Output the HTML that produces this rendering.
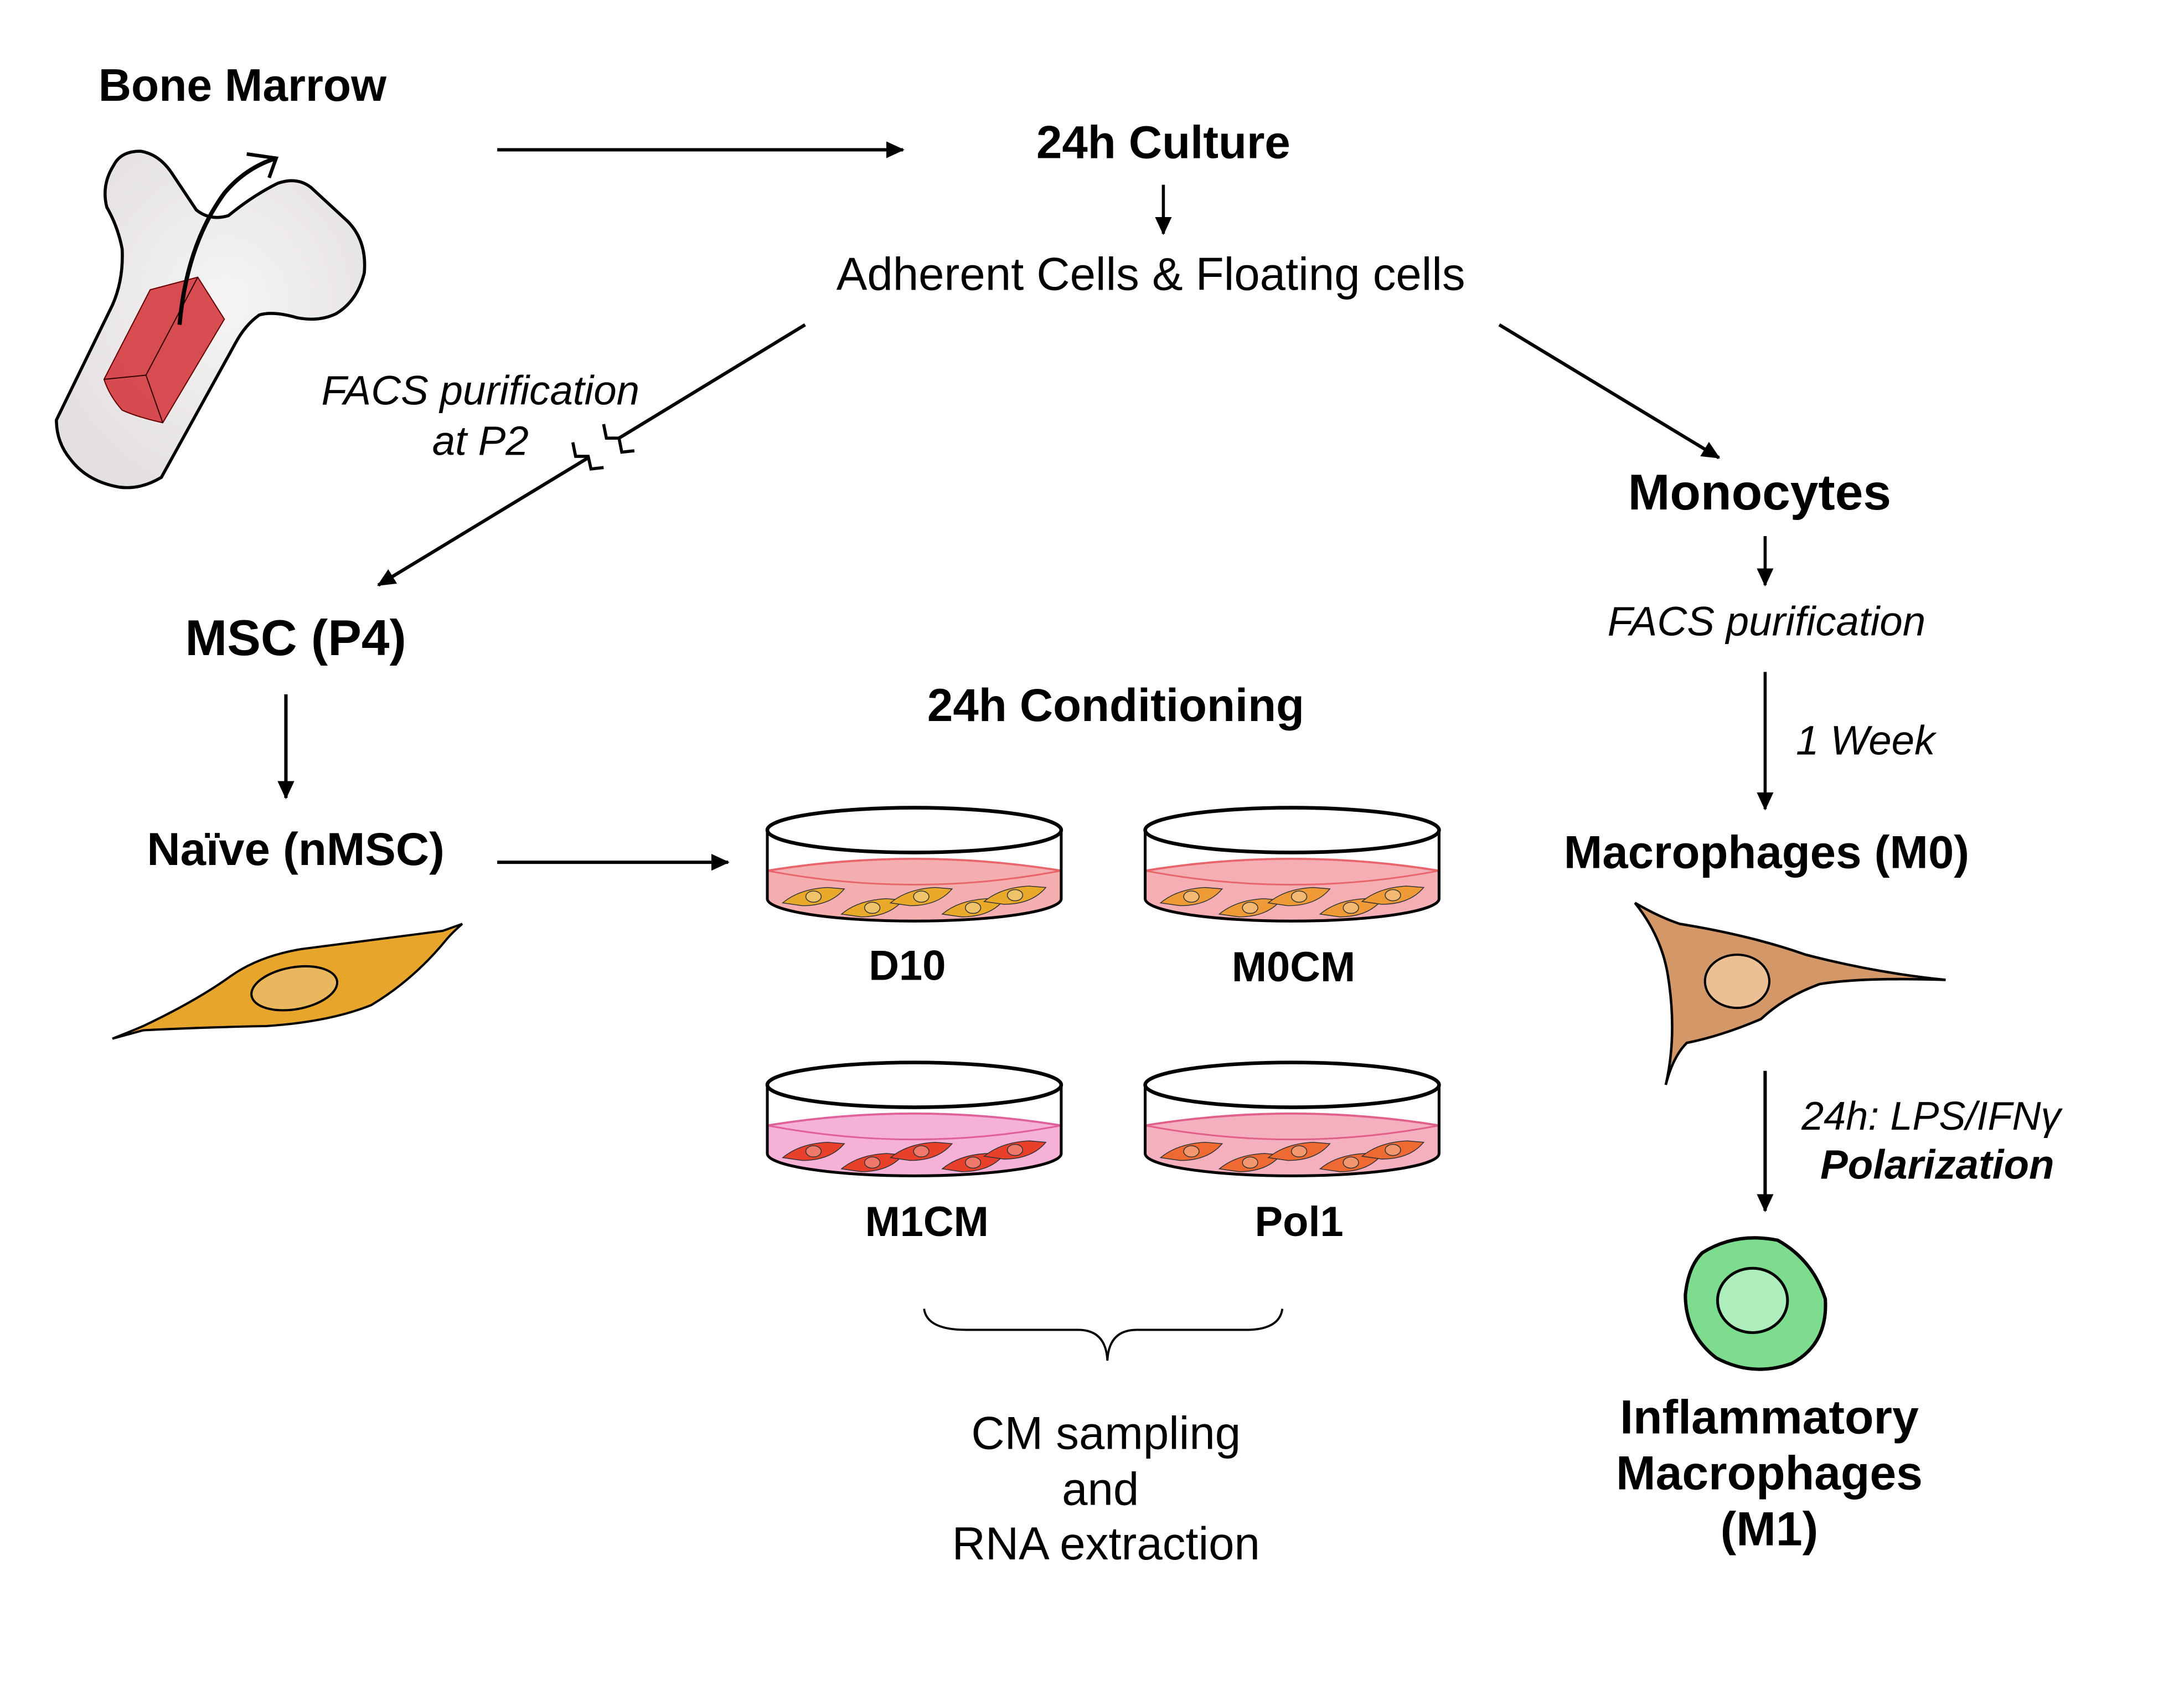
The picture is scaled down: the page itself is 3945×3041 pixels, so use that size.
<!DOCTYPE html>
<html><head><meta charset="utf-8"><style>
html,body{margin:0;padding:0;background:#fff;}
svg{display:block;}
text{font-family:"Liberation Sans",Arial,sans-serif;fill:#000;}
.b{font-weight:bold;}
.i{font-style:italic;}
</style></head><body>
<svg width="3945" height="3041" viewBox="0 0 1560 1203" xmlns="http://www.w3.org/2000/svg">
<defs>
<marker id="ah" markerWidth="13" markerHeight="12" refX="12" refY="6" orient="auto" markerUnits="userSpaceOnUse">
<path d="M0,0 L13,6 L0,12 Z" fill="#000"/></marker>
<radialGradient id="bone" cx="0.55" cy="0.45" r="0.6"><stop offset="0" stop-color="#f6f4f4"/><stop offset="1" stop-color="#e4e0e1"/></radialGradient>
<g id="cell"><path d="M-22,4 Q-10,-6 10,-7 L22,-6 Q12,6 -8,6 Z" stroke="#333" stroke-width="0.6"/><ellipse cx="0" cy="-0.5" rx="5.5" ry="4" fill="#fff" fill-opacity="0.3" stroke="#333" stroke-width="0.6"/></g>
</defs>
<rect width="1560" height="1203" fill="#fff"/>

<!-- Bone -->
<path d="M81,118 Q86,108 100,108 Q113,110 122,123 L140,150 Q150,158 163,154 Q180,140 198,131 Q212,126 222,134 L248,158 Q262,172 260,195 Q255,215 240,224 Q228,230 212,227 Q195,222 185,225 Q175,232 168,245 L115,341 Q100,350 85,348 Q62,344 50,328 Q40,316 40,300 L80,218 Q88,200 87,178 Q84,162 76,148 Q72,132 81,118 Z" fill="url(#bone)" stroke="#000" stroke-width="2.2"/>
<path d="M107,207 L141,198 L160,228 L116,302 Q98,298 87,293 Q78,283 74,271 Z" fill="#d3363b" fill-opacity="0.88" stroke="#600" stroke-width="0.8"/>
<path d="M141,198 L104,268 M74,271 L104,268 L116,302" fill="none" stroke="#300" stroke-width="0.8"/>
<path d="M128,232 Q133,175 160,138 Q175,120 197,113" fill="none" stroke="#000" stroke-width="3"/>
<path d="M176,110 L197,113 L192,127" fill="none" stroke="#000" stroke-width="2.5"/>

<text x="70" y="72" font-size="32.5" class="b">Bone Marrow</text>

<!-- top arrows -->
<line x1="355" y1="107" x2="645" y2="107" stroke="#000" stroke-width="2.4" marker-end="url(#ah)"/>
<text x="831" y="113" font-size="33" class="b" text-anchor="middle">24h Culture</text>
<line x1="831" y1="132" x2="831" y2="167" stroke="#000" stroke-width="2.2" marker-end="url(#ah)"/>
<text x="822" y="207" font-size="33" text-anchor="middle">Adherent Cells &amp; Floating cells</text>

<!-- left diagonal with break -->
<line x1="575" y1="232" x2="442" y2="313" stroke="#000" stroke-width="2.4"/>
<path d="M431,303 L433,313 L442,313 L444,323 L453,322" fill="none" stroke="#000" stroke-width="2.2"/>
<path d="M409,316 L411,326 L420,326 L422,335 L431,334" fill="none" stroke="#000" stroke-width="2.2"/>
<line x1="420" y1="327" x2="270" y2="418" stroke="#000" stroke-width="2.4" marker-end="url(#ah)"/>
<text x="343" y="289" font-size="29.5" class="i" text-anchor="middle">FACS purification</text>
<text x="343" y="325" font-size="29.5" class="i" text-anchor="middle">at P2</text>

<!-- right diagonal -->
<line x1="1071" y1="232" x2="1228" y2="327" stroke="#000" stroke-width="2.4" marker-end="url(#ah)"/>
<text x="1257" y="364" font-size="36" class="b" text-anchor="middle">Monocytes</text>
<line x1="1261" y1="383" x2="1261" y2="418" stroke="#000" stroke-width="2.2" marker-end="url(#ah)"/>
<text x="1262" y="454" font-size="29.5" class="i" text-anchor="middle">FACS purification</text>
<line x1="1261" y1="480" x2="1261" y2="578" stroke="#000" stroke-width="2.2" marker-end="url(#ah)"/>
<text x="1283" y="539" font-size="29.5" class="i">1 Week</text>
<text x="1262" y="620" font-size="33" class="b" text-anchor="middle">Macrophages (M0)</text>

<!-- macrophage -->
<path d="M1168,645 Q1185,655 1200,660 Q1250,668 1290,682 Q1340,695 1390,700 Q1330,698 1300,703 Q1275,712 1258,728 Q1230,740 1205,745 Q1195,755 1190,775 Q1198,740 1192,700 Q1188,670 1168,645 Z" fill="#d49868" stroke="#000" stroke-width="1.8"/>
<ellipse cx="1241" cy="701" rx="23" ry="19" fill="#ecbf95" stroke="#000" stroke-width="1.6"/>

<line x1="1261" y1="765" x2="1261" y2="865" stroke="#000" stroke-width="2.4" marker-end="url(#ah)"/>
<text x="1287" y="807" font-size="28.5" class="i">24h: LPS/IFNγ</text>
<text x="1384" y="842" font-size="29.5" class="b i" text-anchor="middle">Polarization</text>

<!-- M1 cell -->
<path d="M1216,895 Q1240,880 1270,886 Q1295,900 1304,928 Q1306,960 1280,974 Q1252,984 1226,970 Q1204,953 1204,925 Q1206,905 1216,895 Z" fill="#7ddc8e" stroke="#000" stroke-width="2.4"/>
<ellipse cx="1252" cy="929" rx="25" ry="23" fill="#aeeebc" stroke="#000" stroke-width="2"/>
<text x="1264" y="1024" font-size="34" class="b" text-anchor="middle">Inflammatory</text>
<text x="1264" y="1064" font-size="34" class="b" text-anchor="middle">Macrophages</text>
<text x="1264" y="1104" font-size="34" class="b" text-anchor="middle">(M1)</text>

<!-- MSC side -->
<text x="211" y="468" font-size="36" class="b" text-anchor="middle">MSC (P4)</text>
<line x1="204" y1="496" x2="204" y2="570" stroke="#000" stroke-width="2.4" marker-end="url(#ah)"/>
<text x="211" y="618" font-size="33" class="b" text-anchor="middle">Naïve (nMSC)</text>
<line x1="355" y1="616" x2="520" y2="616" stroke="#000" stroke-width="2.4" marker-end="url(#ah)"/>
<path d="M80,742 Q95,736 102,733 Q140,715 165,697 Q185,683 215,678 Q260,672 316,665 L330,660 Q322,667 318,672 Q295,700 265,718 Q235,730 190,733 Q140,734 102,736 Z" fill="#e8a52c" stroke="#000" stroke-width="1.6"/>
<ellipse cx="210" cy="706" rx="31" ry="15" transform="rotate(-10 210 706)" fill="#e9b85e" stroke="#000" stroke-width="1.6"/>

<text x="797" y="515" font-size="33" class="b" text-anchor="middle">24h Conditioning</text>

<!-- dishes -->
<g transform="translate(653,0)">
<path d="M-105,622 Q0,605 105,622 L105,642 A105,16 0 0 1 -105,642 Z" fill="#f5aeb0" stroke="#e8656c" stroke-width="1.5"/>
<path d="M-105,622 Q0,642 105,622" fill="none" stroke="#e8656c" stroke-width="1.2"/>
<g fill="#e9a92a"><use href="#cell" x="-72" y="641"/><use href="#cell" x="-30" y="649"/><use href="#cell" x="5" y="641"/><use href="#cell" x="42" y="649"/><use href="#cell" x="72" y="640"/></g>
<path d="M-105,593 L-105,642 A105,16 0 0 0 105,642 L105,593" fill="none" stroke="#000" stroke-width="2"/>
<ellipse cx="0" cy="593" rx="105" ry="16" fill="none" stroke="#000" stroke-width="2.6"/>
</g>
<g transform="translate(923,0)">
<path d="M-105,622 Q0,605 105,622 L105,642 A105,16 0 0 1 -105,642 Z" fill="#f5aeb4" stroke="#e8656c" stroke-width="1.5"/>
<path d="M-105,622 Q0,642 105,622" fill="none" stroke="#e8656c" stroke-width="1.2"/>
<g fill="#ee9a36"><use href="#cell" x="-72" y="641"/><use href="#cell" x="-30" y="649"/><use href="#cell" x="5" y="641"/><use href="#cell" x="42" y="649"/><use href="#cell" x="72" y="640"/></g>
<path d="M-105,593 L-105,642 A105,16 0 0 0 105,642 L105,593" fill="none" stroke="#000" stroke-width="2"/>
<ellipse cx="0" cy="593" rx="105" ry="16" fill="none" stroke="#000" stroke-width="2.6"/>
</g>
<g transform="translate(653,182)">
<path d="M-105,622 Q0,605 105,622 L105,642 A105,16 0 0 1 -105,642 Z" fill="#f5b2d6" stroke="#e0609a" stroke-width="1.5"/>
<path d="M-105,622 Q0,642 105,622" fill="none" stroke="#e0609a" stroke-width="1.2"/>
<g fill="#e9402c"><use href="#cell" x="-72" y="641"/><use href="#cell" x="-30" y="649"/><use href="#cell" x="5" y="641"/><use href="#cell" x="42" y="649"/><use href="#cell" x="72" y="640"/></g>
<path d="M-105,593 L-105,642 A105,16 0 0 0 105,642 L105,593" fill="none" stroke="#000" stroke-width="2"/>
<ellipse cx="0" cy="593" rx="105" ry="16" fill="none" stroke="#000" stroke-width="2.6"/>
</g>
<g transform="translate(923,182)">
<path d="M-105,622 Q0,605 105,622 L105,642 A105,16 0 0 1 -105,642 Z" fill="#f5b0c0" stroke="#e0608a" stroke-width="1.5"/>
<path d="M-105,622 Q0,642 105,622" fill="none" stroke="#e0608a" stroke-width="1.2"/>
<g fill="#ee6a32"><use href="#cell" x="-72" y="641"/><use href="#cell" x="-30" y="649"/><use href="#cell" x="5" y="641"/><use href="#cell" x="42" y="649"/><use href="#cell" x="72" y="640"/></g>
<path d="M-105,593 L-105,642 A105,16 0 0 0 105,642 L105,593" fill="none" stroke="#000" stroke-width="2"/>
<ellipse cx="0" cy="593" rx="105" ry="16" fill="none" stroke="#000" stroke-width="2.6"/>
</g>
<text x="648" y="700" font-size="30" class="b" text-anchor="middle">D10</text>
<text x="924" y="701" font-size="30" class="b" text-anchor="middle">M0CM</text>
<text x="662" y="883" font-size="30" class="b" text-anchor="middle">M1CM</text>
<text x="928" y="883" font-size="30" class="b" text-anchor="middle">Pol1</text>

<!-- brace -->
<path d="M660,935 Q662,950 690,950 L770,950 Q790,950 791,972 Q792,950 812,950 L890,950 Q914,950 916,935" fill="none" stroke="#000" stroke-width="1.5"/>
<text x="790" y="1035" font-size="33" text-anchor="middle">CM sampling</text>
<text x="786" y="1075" font-size="33" text-anchor="middle">and</text>
<text x="790" y="1114" font-size="33" text-anchor="middle">RNA extraction</text>
</svg>
</body></html>
